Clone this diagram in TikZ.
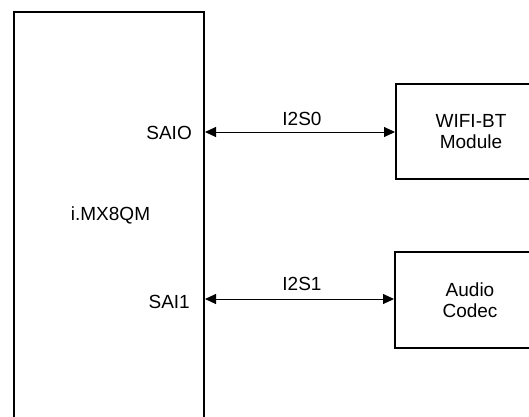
\documentclass[tikz,border=0pt]{standalone}
\usepackage{fontspec}
\setmainfont{Liberation Sans}
\usetikzlibrary{arrows.meta}
\begin{document}
\begin{tikzpicture}[x=1pt,y=1pt,
  txt/.style={font=\fontsize{19}{21}\selectfont},
  blk/.style={draw,line width=2pt,inner sep=0pt,anchor=north west,align=center,txt},
  lbl/.style={inner sep=0pt,anchor=base,txt},
  bus/.style={line width=1pt,{Triangle[length=11pt,width=10pt]}-{Triangle[length=11pt,width=10pt]}}]
\useasboundingbox (0,0) rectangle (529,-416);
\clip (0,0) rectangle (529,-416);
\node[blk,minimum width=190pt,minimum height=430pt] (soc) at (13,-11) {};
\node[blk,minimum width=150pt,minimum height=95pt] (wifi) at (395,-83) {WIFI-BT\\Module};
\node[blk,minimum width=150pt,minimum height=96pt] (codec) at (394,-251) {Audio\\Codec};
\node[lbl] (chip) at (110.5,-220.5) {i.MX8QM};
\coordinate (p0) at (soc.east |- 0,-132);
\coordinate (p1) at (soc.east |- 0,-299);
\node[lbl,anchor=base east] (sai0) at (192,-139) {SAIO};
\node[lbl,anchor=base east] (sai1) at (190,-308) {SAI1};
\draw[bus] (p0) -- (wifi.west |- p0);
\draw[bus] (p1) -- (codec.west |- p1);
\node[lbl] (i2s0) at (302,-125) {I2S0};
\node[lbl] (i2s1) at (302,-290) {I2S1};
\end{tikzpicture}
\end{document}
